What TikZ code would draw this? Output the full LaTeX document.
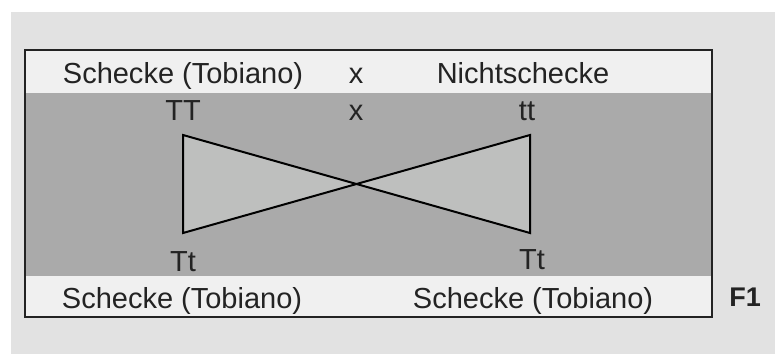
\documentclass[tikz,border=0pt]{standalone}
\usepackage{fontspec}
\setmainfont{Liberation Sans}
\definecolor{paper}{RGB}{226,226,226}
\definecolor{strip}{RGB}{240,240,240}
\definecolor{band}{RGB}{170,170,170}
\definecolor{tri}{RGB}{190,191,190}
\definecolor{ink}{RGB}{35,35,35}
\tikzset{
  lbl/.style={inner sep=0pt, text=ink, font=\fontsize{29}{34}\selectfont, anchor=base},
  boxline/.style={draw=ink, line width=1.4pt},
  cross/.style={draw=black, line width=2pt, line join=miter}
}
\begin{document}
\begin{tikzpicture}[x=1pt,y=-1pt]
\useasboundingbox (0,0) rectangle (775,354);
\fill[white] (0,0) rectangle (775,354);
\fill[paper] (11,12) rectangle (775,354);
% box
\fill[strip] (25,50) rectangle (712,317);
\fill[band] (25,93) rectangle (712,276);
\draw[boxline] (25,50) rectangle (712,317);
% bowtie
\coordinate (lt) at (183,135);
\coordinate (lb) at (183,233);
\coordinate (rt) at (530,135);
\coordinate (rb) at (530,233);
\coordinate (m) at (356.5,184);
\fill[tri] (lt) -- (m) -- (lb) -- cycle;
\fill[tri] (rt) -- (m) -- (rb) -- cycle;
\draw[cross] (lt) -- (rb) -- (rt) -- (lb) -- cycle;
% texts
\node[lbl] (p1) at (183,83) {Schecke (Tobiano)};
\node[lbl] (x1) at (356,83) {x};
\node[lbl] (p2) at (523,83) {Nichtschecke};
\node[lbl] (g1) at (183,120) {TT};
\node[lbl] (x2) at (356,120) {x};
\node[lbl] (g2) at (527,120) {tt};
\node[lbl] (g3) at (183,271) {Tt};
\node[lbl] (g4) at (532,269) {Tt};
\node[lbl] (f1) at (182,308) {Schecke (Tobiano)};
\node[lbl] (f2) at (533,308) {Schecke (Tobiano)};
\node[lbl, font=\fontsize{27}{32}\selectfont\bfseries] (gen) at (745,306) {F1};
\end{tikzpicture}
\end{document}
